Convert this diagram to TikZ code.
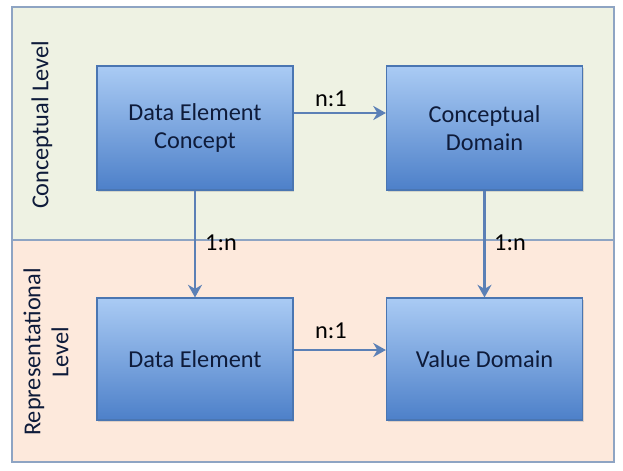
\documentclass[tikz,border=0pt]{standalone}
\usepackage{fontspec}
\setmainfont{Carlito}
\usepackage{xcolor}
\definecolor{FrameBlue}{HTML}{8EA4C3}
\definecolor{ConceptFill}{HTML}{EEF2E3}
\definecolor{ReprFill}{HTML}{FDE9DC}
\definecolor{BoxTop}{HTML}{AACBF4}
\definecolor{BoxBottom}{HTML}{4D80C9}
\definecolor{BoxEdge}{HTML}{4A76B2}
\definecolor{BoxText}{HTML}{0E1B3A}
\definecolor{LinkBlue}{HTML}{5B80B6}
\usepackage{tikz}
\usetikzlibrary{arrows.meta,shadows}

\begin{document}
\begin{tikzpicture}[x=0.025cm,y=-0.025cm,>={Stealth[length=9pt,width=10pt]},
    every node/.style={font=\fontsize{17.3}{20}\selectfont,text=BoxText},
    box/.style={draw=BoxEdge,line width=0.8pt,top color=BoxTop,bottom color=BoxBottom,
      minimum width=4.9cm,minimum height=3.1cm,align=center,
      drop shadow={opacity=0.25,shadow xshift=1pt,shadow yshift=-1.5pt}},
    link/.style={->,draw=LinkBlue,line width=2pt},
    tag/.style={text=black}]
    \useasboundingbox (0,0) rectangle (623,470);
    % level bands
    \fill[ConceptFill] (12,7) rectangle (614,240);
    \fill[ReprFill] (12,240) rectangle (614,462);
    \draw[FrameBlue,line width=0.8pt] (12,7) rectangle (614,462);
    \draw[FrameBlue,line width=0.8pt] (12,240) -- (614,240);
    \node[rotate=90] (conc) at (42,125) {Conceptual Level};
    \node[rotate=90,align=center] (repr) at (46,352) {Representational\\Level};
    % boxes
    \node[box] (dec) at (195,128) {Data Element\\Concept};
    \node[box] (cd) at (484.5,128) {Conceptual\\Domain};
    \node[box,minimum height=3.05cm] (de) at (195,359) {Data Element};
    \node[box,minimum height=3.05cm] (vd) at (484.5,359) {Value Domain};
    % links
    \draw[link] ([yshift=0.375cm]dec.east) -- ([yshift=0.375cm]cd.west);
    \draw[link] ([yshift=0.225cm]de.east) -- ([yshift=0.225cm]vd.west);
    \draw[link] (dec) -- (de);
    \draw[link] (cd) -- (vd);
    \node[tag] (t1) at (331,99) {n:1};
    \node[tag] (t2) at (331,331) {n:1};
    \node[tag] (t3) at (221,243) {1:n};
    \node[tag] (t4) at (510,243) {1:n};
\end{tikzpicture}
\end{document}
